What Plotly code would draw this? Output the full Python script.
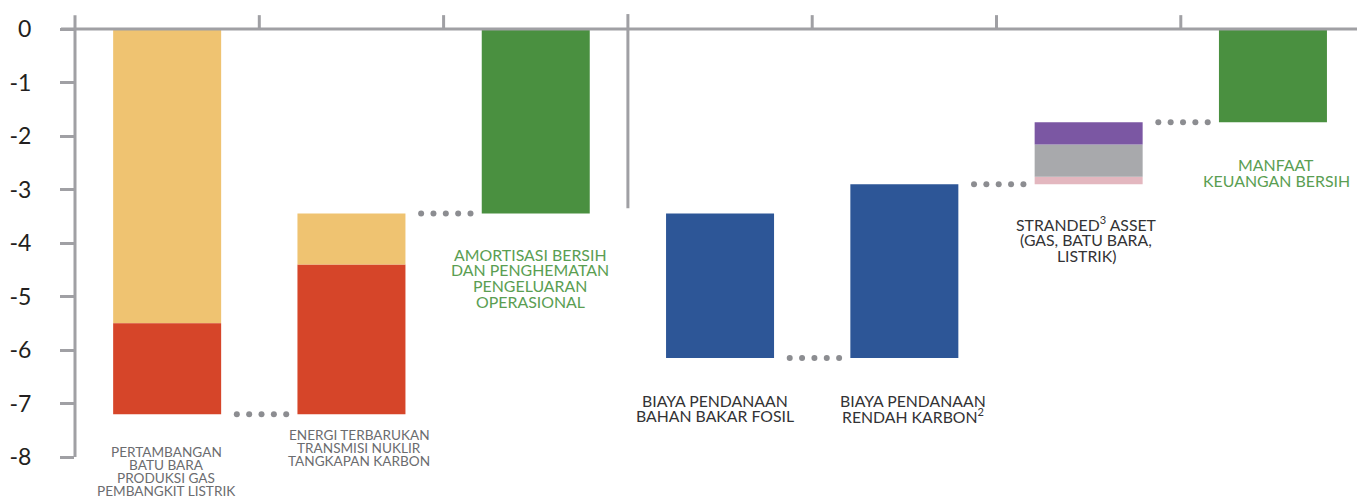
import plotly.graph_objects as go

# ---- data (net cost/benefit steps) ----
stage_keys = ["fossil_supply", "clean_supply", "net_amortisation",
              "fossil_finance", "lowcarbon_finance", "stranded", "net_benefit"]
stage_kind = ["delta", "delta", "total", "delta", "delta", "delta", "total"]

# segments listed in drawing order (from the running level outward)
fossil_supply = [-5.5, -1.7]          # mining/gas production, power generation
clean_supply = [2.8, 0.95]            # renewables/transmission, nuclear/CCS
fossil_finance = [-2.7]
lowcarbon_finance = [3.25]
stranded = [0.14, 0.6, 0.42]          # power, coal, gas

fossil_supply_colors = ["#EFC371", "#D64529"]
clean_supply_colors = ["#D64529", "#EFC371"]
finance_color = "#2D5697"
stranded_colors = ["#E3B7BF", "#A8A9AC", "#7B57A3"]
total_color = "#4A9040"

stage_segments = {
    "fossil_supply": (fossil_supply, fossil_supply_colors),
    "clean_supply": (clean_supply, clean_supply_colors),
    "fossil_finance": (fossil_finance, [finance_color]),
    "lowcarbon_finance": (lowcarbon_finance, [finance_color]),
    "stranded": (stranded, stranded_colors),
}

y_ticks = [0, -1, -2, -3, -4, -5, -6, -7, -8]

# ---- label text ----
stage_labels = [
    ["PERTAMBANGAN", "BATU BARA", "PRODUKSI GAS", "PEMBANGKIT LISTRIK"],
    ["ENERGI TERBARUKAN", "TRANSMISI NUKLIR", "TANGKAPAN KARBON"],
    ["AMORTISASI BERSIH", "DAN PENGHEMATAN", "PENGELUARAN", "OPERASIONAL"],
    ["BIAYA PENDANAAN", "BAHAN BAKAR FOSIL"],
    ["BIAYA PENDANAAN", "RENDAH KARBON<sup>2</sup>"],
    ["STRANDED<sup>3</sup> ASSET", "(GAS, BATU BARA,", "LISTRIK)"],
    ["MANFAAT", "KEUANGAN BERSIH"],
]

# ---- layout geometry ----
W, H = 1357, 496
M_L, M_R, M_T, M_B = 75, 0, 13, 39
BAR_W = 0.586
Y_MIN, Y_MAX = -8, 0.3
X_MIN = -0.5
X_MAX = X_MIN + (W - M_L - M_R) / 184.3

AXIS_GREY = "#A0A0A4"
DOT_GREY = "#8C8D91"

fig = go.Figure()

# ---- bars, accumulated as a waterfall ----
level = 0.0
levels_after = []
for i, key in enumerate(stage_keys):
    if stage_kind[i] == "total":
        fig.add_trace(go.Bar(x=[i], y=[level], base=[0], width=BAR_W,
                             marker=dict(color=total_color, line=dict(width=0)),
                             showlegend=False, hoverinfo="skip"))
    else:
        values, colors = stage_segments[key]
        for v, c in zip(values, colors):
            fig.add_trace(go.Bar(x=[i], y=[v], base=[level], width=BAR_W,
                                 marker=dict(color=c, line=dict(width=0)),
                                 showlegend=False, hoverinfo="skip"))
            level += v
    levels_after.append(level)

# ---- dotted connectors between neighbouring bars ----
dot_offsets = [-0.134, -0.067, 0.0, 0.067, 0.134]
for i in range(len(stage_keys) - 1):
    if i == 2:  # divider between the two halves of the chart
        continue
    lvl = levels_after[i]
    centre = i + 0.5 + 0.012
    fig.add_trace(go.Scatter(x=[centre + o for o in dot_offsets], y=[lvl] * 5,
                             mode="markers",
                             marker=dict(size=6, color=DOT_GREY, line=dict(width=0)),
                             showlegend=False, hoverinfo="skip", cliponaxis=False))

# ---- axis frame: top baseline, y-axis spine, category ticks, divider ----
shapes = [
    dict(type="line", xref="paper", yref="y", x0=-14 / (W - M_L), x1=1, y0=0, y1=0,
         line=dict(color=AXIS_GREY, width=3)),
    dict(type="line", xref="paper", yref="y", x0=0, x1=0, y0=-8, y1=0.26,
         line=dict(color=AXIS_GREY, width=3)),
]
for b in [0.5, 1.5, 3.5, 4.5, 5.5]:
    shapes.append(dict(type="line", xref="x", yref="y", x0=b, x1=b, y0=0, y1=0.26,
                       line=dict(color=AXIS_GREY, width=3)))
shapes.append(dict(type="line", xref="x", yref="y", x0=2.5, x1=2.5, y0=0.28, y1=-3.35,
                   line=dict(color=AXIS_GREY, width=3)))

PLOT_H = H - M_T - M_B


def paper_y(py):
    """Vertical pixel position -> paper fraction (may lie below the plot)."""
    return (H - M_B - py) / PLOT_H


def px_x(px):
    """Horizontal pixel position -> category coordinate."""
    return (px - M_L) / 184.3 - 0.5


GREY_SMALL = dict(family="Lato", size=13.6, color="#6B6C6F")
DARK = dict(family="Lato", size=15.8, color="#333335")
GREEN = dict(family="Lato", size=15.9, color="#5A9E52")

# (centre x px, first-line centre y px, line step px, font)
label_style = [
    (166, 451.5, 13.0, GREY_SMALL),
    (359, 435.0, 13.0, GREY_SMALL),
    (530, 254.0, 15.9, GREEN),
    (715, 400.0, 15.5, DARK),
    (913, 400.0, 15.5, DARK),
    (1086, 223.0, 16.2, DARK),
    (1276, 164.0, 16.5, GREEN),
]

annotations = []
for lines, (cx, cy, step, font) in zip(stage_labels, label_style):
    for k, line in enumerate(lines):
        annotations.append(dict(x=px_x(cx), y=paper_y(cy + k * step), xref="x", yref="paper",
                                text=line, showarrow=False, font=font,
                                xanchor="center", yanchor="middle"))

fig.update_layout(
    width=W, height=H,
    margin=dict(l=M_L, r=M_R, t=M_T, b=M_B),
    paper_bgcolor="white", plot_bgcolor="white",
    barmode="overlay",
    shapes=shapes,
    annotations=annotations,
    xaxis=dict(range=[X_MIN, X_MAX], showgrid=False, zeroline=False,
               showline=False, showticklabels=False, ticks=""),
    yaxis=dict(range=[Y_MIN, Y_MAX], tickvals=y_ticks,
               ticktext=[str(t) for t in y_ticks],
               showgrid=False, zeroline=False, showline=False,
               ticks="outside", ticklen=14, tickwidth=3, tickcolor=AXIS_GREY,
               ticklabelstandoff=24,
               tickfont=dict(family="Lato", size=23, color="#231F20")),
    font=dict(family="Lato"),
)

fig.write_html("out.html")
